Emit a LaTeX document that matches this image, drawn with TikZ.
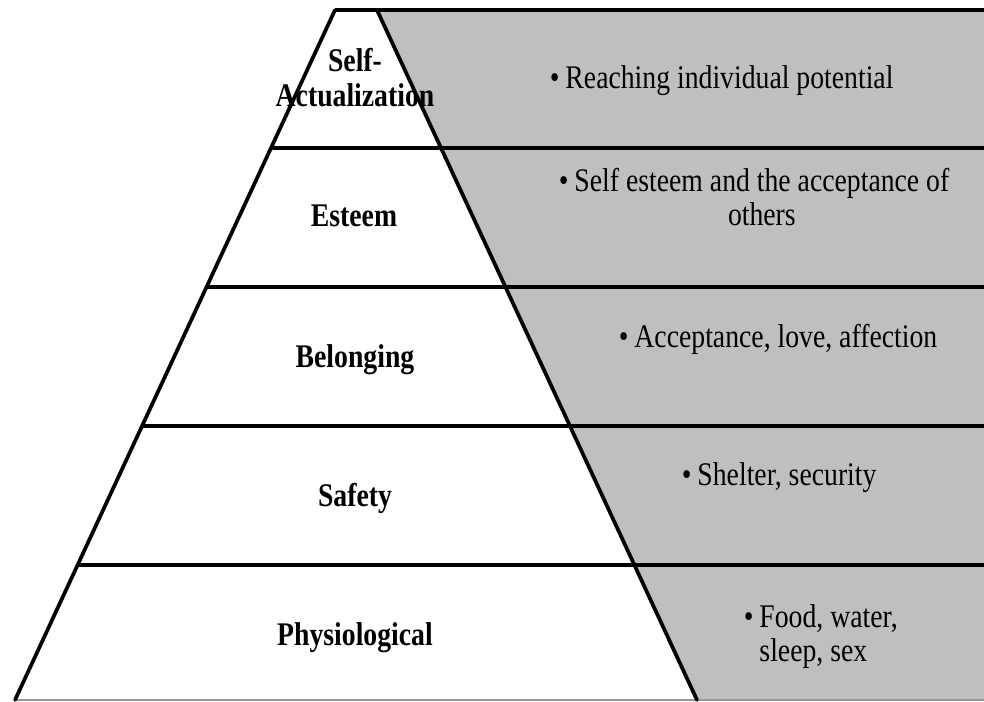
\documentclass[tikz,border=0pt]{standalone}
\usepackage{fontspec}
\setmainfont{Liberation Serif}[FakeStretch=0.84]
\definecolor{panelgray}{RGB}{191,191,191}
\definecolor{baseedge}{RGB}{150,150,150}
\begin{document}
\begin{tikzpicture}[x=0.75pt,y=-0.75pt,
  tier/.style={line width=3.3pt},
  edge/.style={line width=2.8pt, line cap=round},
  lab/.style={font=\fontsize{24.75}{26.25}\selectfont\bfseries, anchor=base, inner sep=0pt, align=center},
  note/.style={font=\fontsize{24.75}{25.5}\selectfont, anchor=base west, inner sep=0pt}]
\useasboundingbox (0,0) rectangle (984,702);
\fill[white] (0,0) rectangle (984,702);
% pyramid corners
\coordinate (tl) at (335,10);
\coordinate (tr) at (377,10);
\coordinate (bl) at (15,700);
\coordinate (br) at (697,700);
\coordinate (er) at (984,10);
\coordinate (ebr) at (984,700);
% tier boundaries
\coordinate (l1) at (271,148);   \coordinate (r1) at (984,148);
\coordinate (l2) at (206.5,287); \coordinate (r2) at (984,287);
\coordinate (l3) at (142,426);   \coordinate (r3) at (984,426);
\coordinate (l4) at (77.6,565);  \coordinate (r4) at (984,565);
% grey panel
\fill[panelgray] (tr) -- (er) -- (ebr) -- (br) -- cycle;
\draw[baseedge, line width=1.2pt] (bl) -- (ebr);
% horizontal lines
\draw[tier] (tl) -- (er);
\draw[tier] (l1) -- (r1);
\draw[tier] (l2) -- (r2);
\draw[tier] (l3) -- (r3);
\draw[tier] (l4) -- (r4);
% slanted edges
\draw[edge] (tl) -- (bl);
\draw[edge] (tr) -- (br);
% labels
\node[lab, anchor=center] (selfact) at (355,78) {Self-\\Actualization};
\node[lab] (esteem) at (354,227) {Esteem};
\node[lab] (belong) at (355,367) {Belonging};
\node[lab] (safety) at (355,506) {Safety};
\node[lab] (physio) at (355,645) {Physiological};
% notes
\node[note] (n1) at (549.5,89) {•\hspace{4.5pt}Reaching individual potential};
\node[note] (n2) at (558.5,192) {•\hspace{4.5pt}\begin{tabular}[t]{@{}c@{}}Self esteem and the acceptance of\\others\end{tabular}};
\node[note] (n3) at (618.5,347) {•\hspace{4.5pt}Acceptance, love, affection};
\node[note] (n4) at (681.5,485) {•\hspace{4.5pt}Shelter, security};
\node[note] (n5) at (743.5,627) {•\hspace{4.5pt}\begin{tabular}[t]{@{}l@{}}Food, water,\\sleep, sex\end{tabular}};
\end{tikzpicture}
\end{document}
